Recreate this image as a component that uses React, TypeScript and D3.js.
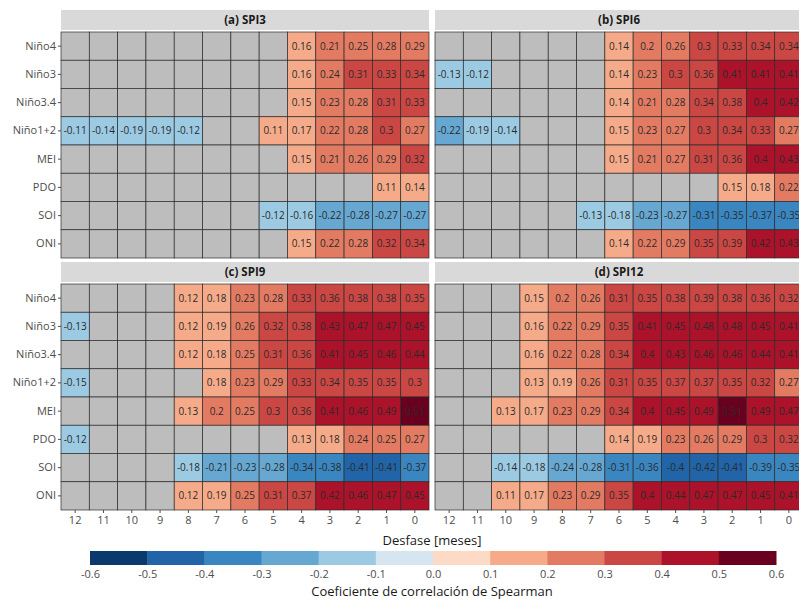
import * as d3 from "d3";
import { useRef, useEffect } from "react";

const lags = ["12", "11", "10", "9", "8", "7", "6", "5", "4", "3", "2", "1", "0"];
const indices = ["Niño4", "Niño3", "Niño3.4", "Niño1+2", "MEI", "PDO", "SOI", "ONI"];
const legendTicks = [-0.6, -0.5, -0.4, -0.3, -0.2, -0.1, 0, 0.1, 0.2, 0.3, 0.4, 0.5, 0.6];

// null = not significant (grey)
const N = null;
const spi3 = [
  [N, N, N, N, N, N, N, N, 0.16, 0.21, 0.25, 0.28, 0.29],
  [N, N, N, N, N, N, N, N, 0.16, 0.24, 0.31, 0.33, 0.34],
  [N, N, N, N, N, N, N, N, 0.15, 0.23, 0.28, 0.31, 0.33],
  [-0.11, -0.14, -0.19, -0.19, -0.12, N, N, 0.11, 0.17, 0.22, 0.28, 0.3, 0.27],
  [N, N, N, N, N, N, N, N, 0.15, 0.21, 0.26, 0.29, 0.32],
  [N, N, N, N, N, N, N, N, N, N, N, 0.11, 0.14],
  [N, N, N, N, N, N, N, -0.12, -0.16, -0.22, -0.28, -0.27, -0.27],
  [N, N, N, N, N, N, N, N, 0.15, 0.22, 0.28, 0.32, 0.34],
];
const spi6 = [
  [N, N, N, N, N, N, 0.14, 0.2, 0.26, 0.3, 0.33, 0.34, 0.34],
  [-0.13, -0.12, N, N, N, N, 0.14, 0.23, 0.3, 0.36, 0.41, 0.41, 0.41],
  [N, N, N, N, N, N, 0.14, 0.21, 0.28, 0.34, 0.38, 0.4, 0.42],
  [-0.22, -0.19, -0.14, N, N, N, 0.15, 0.23, 0.27, 0.3, 0.34, 0.33, 0.27],
  [N, N, N, N, N, N, 0.15, 0.21, 0.27, 0.31, 0.36, 0.4, 0.43],
  [N, N, N, N, N, N, N, N, N, N, 0.15, 0.18, 0.22],
  [N, N, N, N, N, -0.13, -0.18, -0.23, -0.27, -0.31, -0.35, -0.37, -0.35],
  [N, N, N, N, N, N, 0.14, 0.22, 0.29, 0.35, 0.39, 0.42, 0.43],
];
const spi9 = [
  [N, N, N, N, 0.12, 0.18, 0.23, 0.28, 0.33, 0.36, 0.38, 0.38, 0.35],
  [-0.13, N, N, N, 0.12, 0.19, 0.26, 0.32, 0.38, 0.43, 0.47, 0.47, 0.45],
  [N, N, N, N, 0.12, 0.18, 0.25, 0.31, 0.36, 0.41, 0.45, 0.46, 0.44],
  [-0.15, N, N, N, N, 0.18, 0.23, 0.29, 0.33, 0.34, 0.35, 0.35, 0.3],
  [N, N, N, N, 0.13, 0.2, 0.25, 0.3, 0.36, 0.41, 0.46, 0.49, 0.51],
  [-0.12, N, N, N, N, N, N, N, 0.13, 0.18, 0.24, 0.25, 0.27],
  [N, N, N, N, -0.18, -0.21, -0.23, -0.28, -0.34, -0.38, -0.41, -0.41, -0.37],
  [N, N, N, N, 0.12, 0.19, 0.25, 0.31, 0.37, 0.42, 0.46, 0.47, 0.45],
];
const spi12 = [
  [N, N, N, 0.15, 0.2, 0.26, 0.31, 0.35, 0.38, 0.39, 0.38, 0.36, 0.32],
  [N, N, N, 0.16, 0.22, 0.29, 0.35, 0.41, 0.45, 0.48, 0.48, 0.45, 0.41],
  [N, N, N, 0.16, 0.22, 0.28, 0.34, 0.4, 0.43, 0.46, 0.46, 0.44, 0.41],
  [N, N, N, 0.13, 0.19, 0.26, 0.31, 0.35, 0.37, 0.37, 0.35, 0.32, 0.27],
  [N, N, 0.13, 0.17, 0.23, 0.29, 0.34, 0.4, 0.45, 0.49, 0.51, 0.49, 0.47],
  [N, N, N, N, N, N, 0.14, 0.19, 0.23, 0.26, 0.29, 0.3, 0.32],
  [N, N, -0.14, -0.18, -0.24, -0.28, -0.31, -0.36, -0.4, -0.42, -0.41, -0.39, -0.35],
  [N, N, 0.11, 0.17, 0.23, 0.29, 0.35, 0.4, 0.44, 0.47, 0.47, 0.45, 0.41],
];

const panels = [
  { title: "(a) SPI3", data: spi3 },
  { title: "(b) SPI6", data: spi6 },
  { title: "(c) SPI9", data: spi9 },
  { title: "(d) SPI12", data: spi12 },
];

const negColours = ["#d5e6f1", "#9ccae3", "#67a8d3", "#3a86c0", "#2164a8", "#0b396e"];
const posColours = ["#fcdac6", "#f5ab89", "#e37b63", "#cb4744", "#ac1229", "#690020"];

function colourOf(v: number) {
  const bin = Math.min(5, Math.floor(Math.abs(v) * 10 + 1e-9));
  return v < 0 ? negColours[bin] : posColours[bin];
}

export default function App() {
  const ref = useRef<SVGSVGElement>(null);
  const width = 799;
  const height = 600;

  useEffect(() => {
    const svg = d3.select(ref.current);
    svg.selectAll("*").remove();

    const font = "'Open Sans', 'Noto Sans', sans-serif";
    const panelW = 368;
    const panelH = 226;
    const lefts = [61, 435];
    const tops = [32, 284];
    const stripH = 20;

    panels.forEach((p, pi) => {
      const x0 = lefts[pi % 2];
      const y0 = tops[Math.floor(pi / 2)];
      const x = d3.scaleBand().domain(lags).range([x0, x0 + panelW]);
      const y = d3.scaleBand().domain(indices).range([y0, y0 + panelH]);

      const g = svg.append("g");

      // strip
      g.append("rect")
        .attr("x", x0)
        .attr("y", y0 - stripH - 2)
        .attr("width", panelW)
        .attr("height", stripH)
        .attr("fill", "#d9d9d9");
      g.append("text")
        .attr("x", x0 + panelW / 2)
        .attr("y", y0 - 2 - stripH / 2)
        .attr("dy", "0.35em")
        .attr("text-anchor", "middle")
        .attr("font-family", font)
        .attr("font-weight", "bold")
        .attr("font-size", 11.5)
        .attr("fill", "#1a1a1a")
        .text(p.title);

      const cells = p.data.flatMap((row, ri) =>
        row.map((v, ci) => ({ row: indices[ri], lag: lags[ci], v })),
      );

      g.selectAll("rect.cell")
        .data(cells)
        .join("rect")
        .attr("class", "cell")
        .attr("x", (d) => x(d.lag)!)
        .attr("y", (d) => y(d.row)!)
        .attr("width", x.bandwidth())
        .attr("height", y.bandwidth())
        .attr("fill", (d) => (d.v === null ? "#bdbdbd" : colourOf(d.v)))
        .attr("stroke", "#2b2b2b")
        .attr("stroke-width", 0.7);

      g.selectAll("text.val")
        .data(cells.filter((d) => d.v !== null))
        .join("text")
        .attr("class", "val")
        .attr("x", (d) => x(d.lag)! + x.bandwidth() / 2)
        .attr("y", (d) => y(d.row)! + y.bandwidth() / 2)
        .attr("dy", "0.35em")
        .attr("text-anchor", "middle")
        .attr("font-family", font)
        .attr("font-size", 10)
        .attr("fill", "#2b2b2b")
        .text((d) => String(d.v));

      // y axis on left panels
      if (pi % 2 === 0) {
        const yAxis = g
          .append("g")
          .attr("transform", `translate(${x0},0)`)
          .call(d3.axisLeft(y).tickSize(3).tickPadding(2));
        yAxis.select(".domain").remove();
        yAxis.selectAll("line").attr("stroke", "#4d4d4d");
        yAxis
          .selectAll("text")
          .attr("font-family", font)
          .attr("font-size", 11)
          .attr("fill", "#4d4d4d");
      }
      // x axis on bottom panels
      if (pi >= 2) {
        const xAxis = g
          .append("g")
          .attr("transform", `translate(0,${y0 + panelH})`)
          .call(d3.axisBottom(x).tickSize(3).tickPadding(3));
        xAxis.select(".domain").remove();
        xAxis.selectAll("line").attr("stroke", "#4d4d4d");
        xAxis
          .selectAll("text")
          .attr("font-family", font)
          .attr("font-size", 11)
          .attr("fill", "#4d4d4d");
      }
    });

    svg
      .append("text")
      .attr("x", 432)
      .attr("y", 540)
      .attr("dy", "0.35em")
      .attr("text-anchor", "middle")
      .attr("font-family", font)
      .attr("font-size", 13)
      .attr("fill", "#1a1a1a")
      .text("Desfase [meses]");

    // colour bar
    const cx = d3.scaleLinear().domain([-0.6, 0.6]).range([90, 776]);
    const bins = d3.range(legendTicks.length - 1).map((i) => ({
      a: legendTicks[i],
      b: legendTicks[i + 1],
    }));
    svg
      .append("g")
      .selectAll("rect")
      .data(bins)
      .join("rect")
      .attr("x", (d) => cx(d.a))
      .attr("y", 551)
      .attr("width", (d) => cx(d.b) - cx(d.a) + 0.5)
      .attr("height", 14)
      .attr("fill", (d) => colourOf((d.a + d.b) / 2));

    const cAxis = svg
      .append("g")
      .attr("transform", "translate(0,565)")
      .call(
        d3
          .axisBottom(cx)
          .tickValues(legendTicks)
          .tickFormat(d3.format(".1f"))
          .tickSize(0)
          .tickPadding(5),
      );
    cAxis.select(".domain").remove();
    cAxis
      .selectAll("text")
      .attr("font-family", font)
      .attr("font-size", 11)
      .attr("fill", "#4d4d4d")
      .text((d) => d3.format(".1f")(d as number).replace("−", "-"));

    svg
      .append("text")
      .attr("x", 432)
      .attr("y", 591)
      .attr("dy", "0.35em")
      .attr("text-anchor", "middle")
      .attr("font-family", font)
      .attr("font-size", 13)
      .attr("fill", "#1a1a1a")
      .text("Coeficiente de correlación de Spearman");
  }, []);

  return (
    <svg
      ref={ref}
      width={width}
      height={height}
      viewBox={`0 0 ${width} ${height}`}
      style={{ position: "absolute", left: 0, top: 0, background: "#fff", overflow: "hidden" }}
    />
  );
}
